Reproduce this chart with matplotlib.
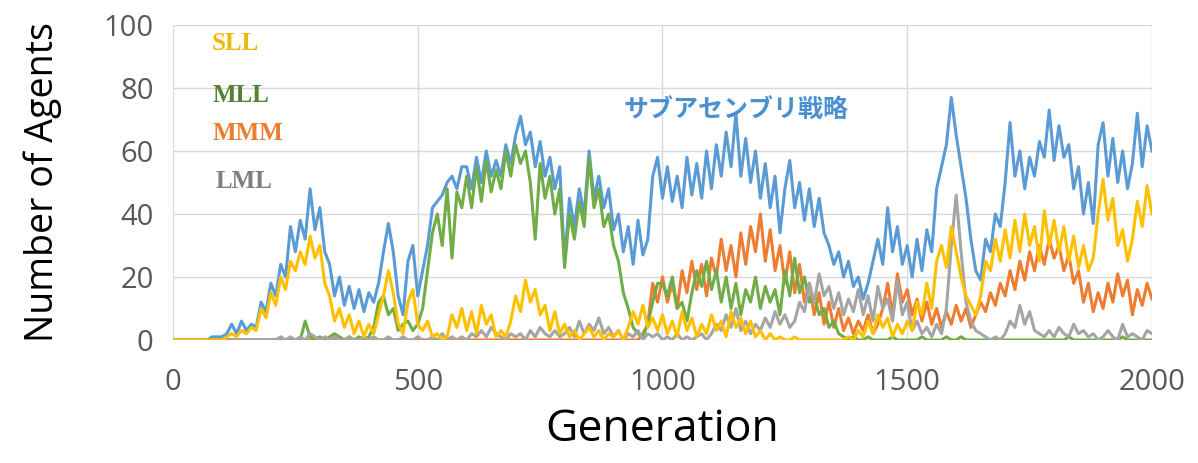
import numpy as np
import matplotlib.pyplot as plt

# generations sampled every 10 steps
gen = np.arange(0, 2001, 10)

blue = [0, 0, 0, 0, 0, 0, 0, 0, 1, 1,
        1, 2, 5, 2, 6, 3, 5, 4, 12, 9,
        18, 14, 24, 20, 36, 28, 38, 32, 48, 35,
        42, 28, 24, 14, 20, 11, 17, 10, 16, 9,
        15, 12, 18, 28, 37, 28, 14, 8, 25, 30,
        14, 22, 30, 42, 44, 46, 50, 52, 48, 55,
        55, 48, 58, 50, 60, 52, 57, 52, 62, 56,
        65, 71, 62, 66, 55, 63, 52, 58, 48, 55,
        25, 45, 36, 48, 40, 60, 45, 52, 42, 48,
        35, 40, 28, 36, 24, 38, 27, 32, 52, 58,
        45, 55, 44, 52, 42, 58, 46, 56, 45, 60,
        48, 62, 52, 66, 55, 72, 52, 64, 50, 60,
        45, 56, 42, 52, 34, 48, 57, 42, 50, 38,
        48, 36, 45, 34, 30, 24, 28, 20, 25, 17,
        20, 13, 18, 25, 32, 24, 42, 28, 36, 24,
        30, 20, 32, 22, 35, 28, 48, 55, 62, 77,
        65, 55, 45, 32, 22, 19, 32, 28, 40, 36,
        50, 69, 52, 60, 48, 58, 52, 63, 58, 73,
        57, 68, 58, 62, 48, 55, 40, 50, 37, 62,
        69, 52, 64, 50, 60, 48, 56, 72, 55, 68,
        60]

sll = [0, 0, 0, 0, 0, 0, 0, 0, 0, 0,
       0, 1, 2, 1, 3, 2, 4, 3, 10, 7,
       15, 11, 20, 16, 25, 22, 28, 24, 33, 26,
       30, 18, 14, 6, 10, 4, 8, 2, 6, 1,
       5, 2, 8, 14, 22, 15, 5, 2, 12, 16,
       5, 3, 6, 1, 2, 0, 1, 8, 4, 10,
       3, 9, 2, 11, 5, 8, 1, 3, 1, 6,
       14, 9, 19, 12, 16, 8, 11, 3, 9, 2,
       5, 1, 3, 0, 2, 4, 1, 3, 0, 2,
       1, 3, 0, 4, 9, 5, 11, 4, 7, 3,
       8, 2, 6, 1, 9, 3, 7, 1, 5, 2,
       8, 3, 6, 1, 9, 4, 7, 2, 6, 1,
       3, 0, 2, 0, 1, 0, 0, 1, 0, 0,
       0, 0, 0, 0, 0, 0, 0, 0, 1, 0,
       3, 1, 6, 2, 8, 4, 7, 1, 5, 2,
       6, 3, 12, 8, 18, 10, 25, 30, 23, 36,
       28, 20, 14, 11, 8, 14, 25, 22, 32, 25,
       35, 26, 38, 28, 40, 30, 36, 25, 41, 30,
       38, 28, 36, 25, 33, 23, 30, 22, 26, 40,
       51, 38, 45, 30, 35, 25, 32, 44, 36, 49,
       40]

mll = [0, 0, 0, 0, 0, 0, 0, 0, 0, 0,
       0, 0, 0, 0, 0, 0, 0, 0, 0, 0,
       0, 0, 0, 0, 0, 0, 0, 6, 1, 0,
       1, 0, 1, 2, 1, 0, 1, 0, 1, 0,
       1, 4, 12, 14, 8, 10, 3, 5, 6, 3,
       5, 10, 22, 34, 40, 30, 48, 26, 47, 42,
       52, 42, 55, 44, 57, 47, 54, 48, 60, 52,
       62, 56, 60, 50, 32, 56, 45, 52, 40, 48,
       23, 40, 32, 44, 36, 58, 42, 48, 36, 40,
       30, 25, 15, 10, 4, 2, 1, 5, 12, 18,
       18, 14, 20, 10, 12, 6, 15, 22, 17, 25,
       16, 22, 12, 20, 10, 18, 8, 16, 12, 20,
       10, 17, 12, 16, 8, 22, 14, 26, 15, 20,
       12, 14, 8, 10, 4, 6, 2, 1, 0, 1,
       0, 0, 1, 0, 0, 0, 0, 1, 0, 0,
       0, 0, 0, 1, 0, 0, 0, 0, 1, 0,
       0, 1, 0, 0, 0, 0, 0, 0, 0, 0,
       0, 0, 0, 0, 0, 0, 0, 0, 0, 0,
       0, 0, 0, 1, 0, 0, 0, 0, 0, 0,
       0, 0, 0, 0, 1, 0, 0, 0, 0, 0,
       0]

mmm = [0] * 90 + [
       0, 0, 0, 0, 0, 0, 2, 5, 18, 12,
       20, 12, 18, 10, 22, 15, 25, 16, 24, 14,
       26, 20, 32, 22, 30, 20, 34, 24, 36, 28,
       40, 25, 35, 22, 30, 18, 28, 15, 24, 12,
       18, 8, 15, 5, 12, 4, 10, 3, 7, 2,
       6, 3, 8, 2, 5, 10, 18, 8, 21, 12,
       16, 8, 13, 6, 12, 5, 10, 4, 9, 5,
       11, 6, 10, 4, 8, 12, 9, 15, 11, 18,
       14, 22, 16, 25, 19, 28, 22, 30, 24, 32,
       26, 30, 22, 27, 18, 22, 12, 18, 9, 15,
       10, 18, 12, 21, 14, 19, 8, 16, 11, 18,
       13]

lml = [0, 0, 0, 0, 0, 0, 0, 0, 0, 0,
       0, 0, 0, 0, 0, 0, 0, 0, 0, 0,
       0, 0, 1, 0, 1, 0, 1, 0, 2, 1,
       0, 1, 0, 1, 0, 0, 1, 0, 0, 1,
       0, 1, 0, 0, 1, 0, 0, 1, 0, 0,
       1, 0, 0, 1, 0, 2, 0, 1, 0, 1,
       0, 2, 1, 3, 1, 4, 2, 1, 0, 2,
       1, 2, 0, 3, 1, 4, 2, 1, 3, 1,
       2, 4, 1, 6, 2, 5, 3, 7, 2, 4,
       1, 3, 0, 2, 1, 3, 0, 2, 1, 2,
       0, 1, 0, 2, 0, 1, 0, 1, 2, 0,
       2, 5, 3, 8, 4, 10, 3, 6, 2, 5,
       3, 7, 4, 9, 5, 8, 4, 6, 12, 9,
       18, 12, 21, 14, 17, 10, 15, 8, 13, 9,
       16, 8, 14, 6, 17, 10, 13, 6, 19, 8,
       12, 3, 6, 2, 4, 1, 5, 2, 10, 30,
       46, 28, 12, 6, 3, 2, 1, 0, 1, 0,
       2, 6, 4, 11, 5, 9, 3, 2, 1, 3,
       1, 4, 2, 1, 5, 2, 3, 1, 2, 0,
       1, 3, 1, 0, 5, 1, 2, 1, 0, 3,
       2]

x_ticks = [0, 500, 1000, 1500, 2000]
y_ticks = [0, 20, 40, 60, 80, 100]

fig = plt.figure(figsize=(11.98, 4.63), dpi=100)
ax = fig.add_axes([0.1444, 0.2657, 0.8172, 0.6803])

lw = 2.2
ax.plot(gen, blue, color="#5B9BD5", lw=lw, zorder=3)
ax.plot(gen, mmm, color="#ED7D31", lw=lw, zorder=4)
ax.plot(gen, mll, color="#70AD47", lw=lw, zorder=5)
ax.plot(gen, lml, color="#A5A5A5", lw=lw, zorder=6)
ax.plot(gen, sll, color="#FFC000", lw=lw, zorder=7)

ax.set_xlim(0, 2000)
ax.set_ylim(0, 100)
ax.set_xticks(x_ticks)
ax.set_yticks(y_ticks)
ax.grid(True, color="#D9D9D9", lw=1)
ax.set_axisbelow(True)
for s in ax.spines.values():
    s.set_visible(False)
ax.tick_params(length=0, labelsize=21, labelcolor="#595959")
ax.tick_params(axis="x", pad=20)
ax.tick_params(axis="y", pad=14)
for lab in ax.get_xticklabels() + ax.get_yticklabels():
    lab.set_family("Open Sans")

ax.set_xlabel("Generation", fontsize=32, family="Open Sans", labelpad=8)
ax.set_ylabel("Number of Agents", fontsize=27, family="Open Sans", labelpad=30)

serif = dict(family="Liberation Serif", fontweight="bold", fontsize=18, va="center")
ax.text(78, 94, "SLL", color="#F2B705", **serif)
ax.text(80, 77.6, "MLL", color="#548235", **serif)
ax.text(80, 65.5, "MMM", color="#ED7D31", **serif)
ax.text(88, 50.2, "LML", color="#7F7F7F", **serif)

ax.text(1150, 72.8, "サブアセンブリ戦略", color="#4A90D0", fontsize=18,
        fontweight="bold", family=["Noto Sans CJK JP", "DejaVu Sans"],
        ha="center", va="center")

fig.savefig("out.png", dpi=100)
